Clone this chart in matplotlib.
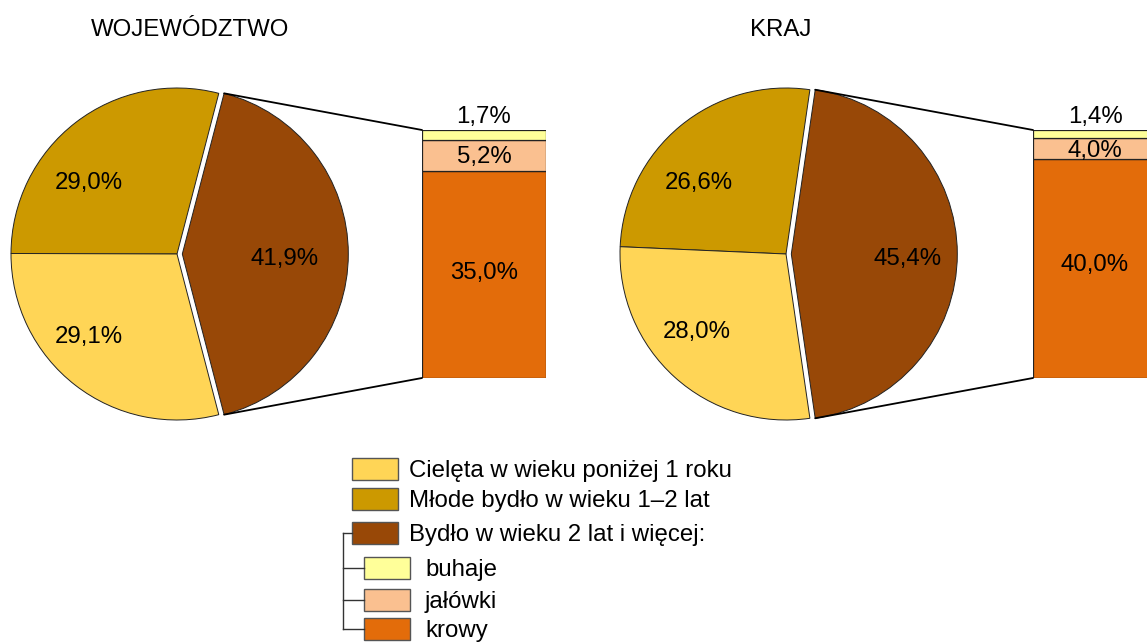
import matplotlib
matplotlib.use("Agg")
import matplotlib.pyplot as plt
from matplotlib.patches import Rectangle, ConnectionPatch
import numpy as np

plt.rcParams['font.family'] = ['Liberation Sans', 'DejaVu Sans']

# ---------------- data ----------------
titles = ["WOJEWÓDZTWO", "KRAJ"]
pie_labels = ["Bydło w wieku 2 lat i więcej", "Młode bydło w wieku 1–2 lat", "Cielęta w wieku poniżej 1 roku"]
pie_woj = [41.9, 29.0, 29.1]
pie_kraj = [45.4, 26.6, 28.0]
bar_labels = ["krowy", "jałówki", "buhaje"]
bar_woj = [35.0, 5.2, 1.7]
bar_kraj = [40.0, 4.0, 1.4]
legend_main = ["Cielęta w wieku poniżej 1 roku", "Młode bydło w wieku 1–2 lat", "Bydło w wieku 2 lat i więcej:"]
legend_sub = ["buhaje", "jałówki", "krowy"]

# ---------------- style ----------------
C_BROWN = "#984807"
C_GOLD = "#CC9900"
C_YELLOW = "#FFD556"
C_KROWY = "#E36C0A"
C_JAL = "#FAC090"
C_BUH = "#FFFF99"
pie_colors = [C_BROWN, C_GOLD, C_YELLOW]
bar_colors = [C_KROWY, C_JAL, C_BUH]

W, H = 1147, 644
FS = 17.3
TDY = 2  # text nudge downwards (px)

def fmt(v):
    return f"{v:.1f}".replace(".", ",") + "%"

fig = plt.figure(figsize=(W / 100, H / 100), dpi=100)
ax = fig.add_axes([0, 0, 1, 1])

def Y(y):
    return H - y

panels = [
    dict(title_x=190, center=(177, 254), r=166, bar=(422, 130, 124, 378),
         offs=[(108, 3), (-88, -73), (-88, 81)], krowy_dy=-3),
    dict(title_x=781, center=(786, 254), r=166, bar=(1033, 130, 124, 378),
         offs=[(122, 3), (-87, -73), (-89, 76)], krowy_dy=-6),
]
datasets = [(pie_woj, bar_woj), (pie_kraj, bar_kraj)]

for p, (pv, bv), title in zip(panels, datasets, titles):
    cx, cy = p["center"]
    r = p["r"]
    start = -pv[0] / 100 * 360 / 2
    wedges, _ = ax.pie(pv, colors=pie_colors, startangle=start, counterclock=True,
                       center=(cx, Y(cy)), radius=r, explode=[0.032 * r, 0, 0],
                       wedgeprops=dict(edgecolor="#222222", linewidth=0.7), frame=True)
    for v, (dx, dy) in zip(pv, p["offs"]):
        ax.text(cx + dx, Y(cy + dy + TDY), fmt(v), ha="center", va="center", fontsize=FS)
    ax.text(p["title_x"], Y(28 + TDY), title, ha="center", va="center", fontsize=FS)

    # bar
    bx, btop, bw, bbot = p["bar"]
    bax = fig.add_axes([bx / W, (H - bbot) / H, bw / W, (bbot - btop) / H])
    total = sum(bv)
    bottoms = np.concatenate([[0], np.cumsum(bv)[:-1]])
    bax.bar([0] * len(bv), bv, bottom=bottoms, width=1.0, color=bar_colors,
            edgecolor="#222222", linewidth=0.9, align="center")
    bax.set_xlim(-0.5, 0.5)
    bax.set_ylim(0, total)
    bax.axis("off")
    bax.annotate(fmt(bv[0]), xy=(0, bottoms[0] + bv[0] / 2), xytext=(0, -p["krowy_dy"] - TDY),
                 textcoords="offset pixels", ha="center", va="center", fontsize=FS)
    bax.annotate(fmt(bv[1]), xy=(0, bottoms[1] + bv[1] / 2), xytext=(0, -TDY),
                 textcoords="offset pixels", ha="center", va="center", fontsize=FS)
    bax.annotate(fmt(bv[2]), xy=(0, total), xytext=(0, 15 - TDY), textcoords="offset pixels",
                 ha="center", va="center", fontsize=FS)

    # connection lines
    w = wedges[0]
    wx, wy = w.center
    for ang, yb in [(w.theta2, total), (w.theta1, 0)]:
        pa = (wx + w.r * np.cos(np.radians(ang)), wy + w.r * np.sin(np.radians(ang)))
        con = ConnectionPatch(xyA=pa, coordsA=ax.transData, xyB=(-0.5, yb), coordsB=bax.transData,
                              color="black", linewidth=1.3)
        fig.add_artist(con)

ax.set_xlim(0, W)
ax.set_ylim(0, H)
ax.set_aspect("auto")
ax.axis("off")

# ---------------- legend ----------------
leg_colors_main = [C_YELLOW, C_GOLD, C_BROWN]
leg_colors_sub = [C_BUH, C_JAL, C_KROWY]
main_y = [469, 499, 533]
sub_y = [568, 600, 629]
for lab, col, yy in zip(legend_main, leg_colors_main, main_y):
    ax.add_patch(Rectangle((352, Y(yy + 11)), 46, 22, facecolor=col, edgecolor="#555555", linewidth=1))
    ax.text(409, Y(yy + TDY), lab, ha="left", va="center", fontsize=FS)
for lab, col, yy in zip(legend_sub, leg_colors_sub, sub_y):
    ax.add_patch(Rectangle((364, Y(yy + 11)), 46, 22, facecolor=col, edgecolor="#555555", linewidth=1))
    ax.text(425, Y(yy + TDY), lab, ha="left", va="center", fontsize=FS)
    ax.plot([343, 364], [Y(yy), Y(yy)], color="#333333", linewidth=1)
ax.plot([343, 352], [Y(main_y[2]), Y(main_y[2])], color="#333333", linewidth=1)
ax.plot([343, 343], [Y(main_y[2]), Y(sub_y[-1])], color="#333333", linewidth=1)

fig.savefig("out.png", dpi=100)
